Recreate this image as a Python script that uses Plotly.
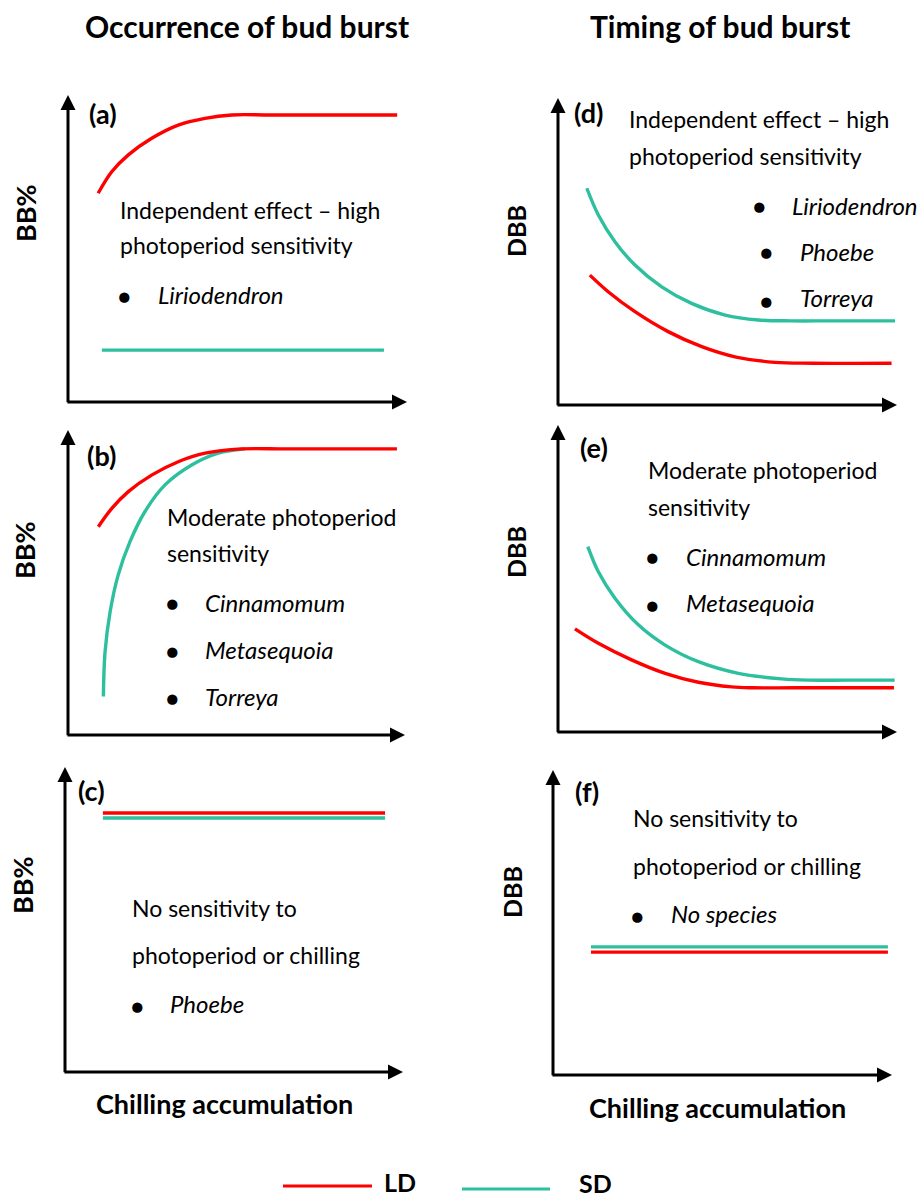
import plotly.graph_objects as go

W, H = 921, 1200
RED = "#FF0000"
TEAL = "#2DBF9E"
FONT = "Lato"

# ---- curve data (chilling accumulation on x, response on y, both 0-100) ----
# (a) occurrence, independent effect
a_ld_x = [8.9, 12.9, 17.8, 24.7, 32.5, 40.4, 48.3, 60.0, 97.1]
a_ld_y = [68.0, 75.0, 80.5, 85.9, 90.2, 92.4, 93.5, 93.5, 93.5]
a_sd_x = [10.0, 93.2]
a_sd_y = [16.9, 16.9]

# (b) occurrence, moderate sensitivity
b_ld_x = [9.0, 13.0, 17.9, 24.8, 32.7, 40.7, 51.5, 65.0, 97.6]
b_ld_y = [68.3, 74.3, 79.8, 85.2, 89.6, 92.4, 93.8, 93.8, 93.8]
b_sd_x = [10.5, 11.0, 12.5, 14.9, 18.4, 22.8, 28.8, 36.7, 44.6, 52.5]
b_sd_y = [12.6, 27.3, 40.4, 52.5, 63.4, 73.2, 82.0, 88.5, 92.4, 93.8]

# (c) occurrence, no sensitivity
c_ld_x = [11.2, 94.7]
c_ld_y = [84.9, 84.9]
c_sd_x = [11.2, 94.7]
c_sd_y = [83.3, 83.3]

# (d) timing, independent effect
d_sd_x = [8.5, 11.9, 16.8, 22.7, 30.6, 39.4, 49.3, 59.1, 68.9, 80.0, 99.4]
d_sd_y = [70.6, 61.9, 53.2, 45.6, 38.5, 33.1, 29.3, 27.7, 27.4, 27.4, 27.4]
d_ld_x = [9.4, 14.8, 22.7, 32.5, 42.4, 52.2, 64.0, 75.0, 98.4]
d_ld_y = [42.3, 36.9, 30.4, 23.9, 19.0, 15.7, 13.9, 13.6, 13.6]

# (e) timing, moderate sensitivity
e_sd_x = [8.8, 11.9, 16.8, 23.7, 31.6, 41.4, 53.2, 66.0, 73.8, 85.0, 99.3]
e_sd_y = [60.4, 52.2, 43.6, 34.9, 28.3, 22.9, 19.1, 17.3, 16.9, 16.9, 16.9]
e_ld_x = [5.0, 11.9, 21.7, 31.6, 41.4, 51.2, 57.1, 70.0, 99.1]
e_ld_y = [33.6, 28.9, 23.5, 19.1, 16.2, 14.7, 14.4, 14.4, 14.4]

# (f) timing, no sensitivity
f_sd_x = [11.2, 98.8]
f_sd_y = [42.0, 42.0]
f_ld_x = [11.2, 98.8]
f_ld_y = [40.3, 40.3]

# ---- panel layout: pixel box of each axis pair (left, right, top, bottom) ----
panels = [
    ("a", (68, 407, 95, 402), (a_ld_x, a_ld_y), (a_sd_x, a_sd_y)),
    ("b", (68, 405, 430, 735), (b_ld_x, b_ld_y), (b_sd_x, b_sd_y)),
    ("c", (65, 403, 767, 1072), (c_ld_x, c_ld_y), (c_sd_x, c_sd_y)),
    ("d", (558, 897, 98, 405), (d_ld_x, d_ld_y), (d_sd_x, d_sd_y)),
    ("e", (558, 897, 425, 732), (e_ld_x, e_ld_y), (e_sd_x, e_sd_y)),
    ("f", (553, 892, 770, 1075), (f_ld_x, f_ld_y), (f_sd_x, f_sd_y)),
]


def fx(x):
    return x / W


def fy(y):
    return 1 - y / H


fig = go.Figure()
annotations = []
shapes = []
layout_axes = {}

for i, (tag, (l, r, t, b), ld, sd) in enumerate(panels, start=1):
    sx = "" if i == 1 else str(i)
    xa, ya = "x" + sx, "y" + sx
    layout_axes["xaxis" + sx] = dict(domain=[fx(l), fx(r)], range=[0, 100], visible=False,
                                     anchor=ya, fixedrange=True)
    layout_axes["yaxis" + sx] = dict(domain=[fy(b), fy(t)], range=[0, 100], visible=False,
                                     anchor=xa, fixedrange=True)
    # SD first so LD sits on top where the curves meet
    for (xs, ys), col in ((sd, TEAL), (ld, RED)):
        fig.add_trace(go.Scatter(x=xs, y=ys, xaxis=xa, yaxis=ya, mode="lines",
                                 line=dict(color=col, width=3.4, shape="spline", smoothing=1),
                                 showlegend=False, hoverinfo="skip", cliponaxis=False))
    # axis arrows
    for hx, hy, tx, ty in ((100, 0, -0.6, 0), (0, 100, 0, -0.6)):
        annotations.append(dict(x=hx, y=hy, ax=tx, ay=ty, xref=xa, yref=ya, axref=xa, ayref=ya,
                                showarrow=True, arrowhead=2, arrowsize=1.0, arrowwidth=3,
                                arrowcolor="black", text="", standoff=0))

# ---- text ----

def txt(x, y, s, size=23, anchor="left", angle=0, yanchor="middle"):
    annotations.append(dict(x=fx(x), y=fy(y), xref="paper", yref="paper", text=s,
                            showarrow=False, xanchor=anchor, yanchor=yanchor,
                            textangle=angle, font=dict(family=FONT, size=size, color="black")))


def species(x, y, s):
    txt(x, y, "<i>%s</i>" % s, size=24)


def bullet(x, y):
    txt(x, y, "●", size=21, anchor="center")


# column titles
txt(247, 26, "<b>Occurrence of bud burst</b>", size=30, anchor="center")
txt(720, 26, "<b>Timing of bud burst</b>", size=30, anchor="center")

# y-axis labels
for x, y, s, sz in ((25, 213, "BB%", 27), (25, 550, "BB%", 27), (22, 885, "BB%", 27),
                    (516, 231, "DBB", 25), (516, 552, "DBB", 25), (512, 892, "DBB", 25)):
    txt(x, y, "<b>%s</b>" % s, size=sz, anchor="center", angle=-90)

# x-axis labels
txt(224, 1103, "<b>Chilling accumulation</b>", size=27, anchor="center")
txt(717, 1107, "<b>Chilling accumulation</b>", size=27, anchor="center")

# panel letters
for x, y, s in ((87, 114, "(a)"), (85, 455, "(b)"), (76, 790, "(c)"),
                (572, 112, "(d)"), (578, 447, "(e)"), (573, 791, "(f)")):
    txt(x, y, "<b>%s</b>" % s, size=27)

# (a)
txt(118, 210, "Independent effect – high")
txt(118, 245, "photoperiod sensitivity")
bullet(124, 295)
species(156, 294, "Liriodendron")

# (b)
txt(165, 517, "Moderate photoperiod")
txt(165, 553, "sensitivity")
for y, s in ((603, "Cinnamomum"), (650, "Metasequoia"), (697, "Torreya")):
    bullet(172, y)
    species(203, y - 1, s)

# (c)
txt(130, 908, "No sensitivity to")
txt(130, 955, "photoperiod or chilling")
bullet(137, 1005)
species(168, 1003, "Phoebe")

# (d)
txt(627, 119, "Independent effect – high")
txt(627, 156, "photoperiod sensitivity")
bullet(759, 206)
species(790, 205, "Liriodendron")
bullet(766, 252)
species(798, 251, "Phoebe")
bullet(766, 300)
species(798, 298, "Torreya")

# (e)
txt(646, 470, "Moderate photoperiod")
txt(646, 507, "sensitivity")
bullet(652, 557)
species(684, 556, "Cinnamomum")
bullet(652, 604)
species(684, 603, "Metasequoia")

# (f)
txt(631, 818, "No sensitivity to")
txt(631, 866, "photoperiod or chilling")
bullet(637, 915)
species(669, 913, "No species")

# ---- legend ----
shapes.append(dict(type="line", xref="paper", yref="paper", x0=fx(283), x1=fx(372),
                   y0=fy(1186), y1=fy(1186), line=dict(color=RED, width=3)))
shapes.append(dict(type="line", xref="paper", yref="paper", x0=fx(462), x1=fx(550),
                   y0=fy(1189), y1=fy(1189), line=dict(color=TEAL, width=3)))
txt(400, 1199, "<b>LD</b>", size=25, anchor="center", yanchor="bottom")
txt(595, 1200, "<b>SD</b>", size=25, anchor="center", yanchor="bottom")

fig.update_layout(
    width=W, height=H,
    margin=dict(l=0, r=0, t=0, b=0),
    paper_bgcolor="white", plot_bgcolor="white",
    annotations=annotations, shapes=shapes,
    showlegend=False,
    **layout_axes,
)

fig.write_html("out.html")
